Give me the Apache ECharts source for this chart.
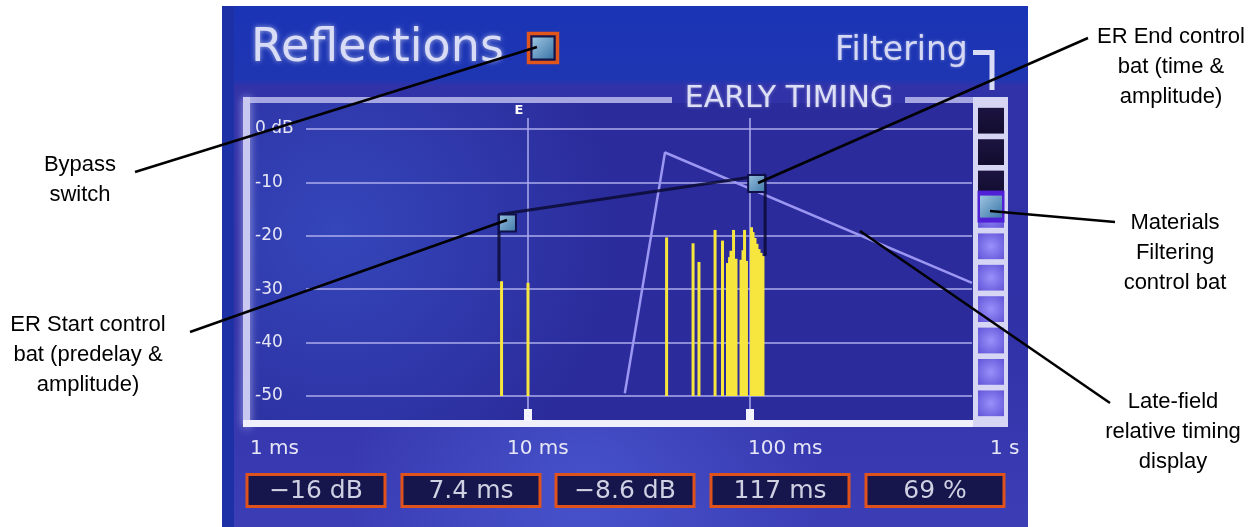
<!DOCTYPE html>
<html><head><meta charset="utf-8">
<script src="https://cdn.jsdelivr.net/npm/echarts@6/dist/echarts.min.js"></script>
<style>html,body{margin:0;padding:0;background:#fff}#c{width:1259px;height:527px}</style>
</head><body><div id="c"></div>
<script>
// ---- data ----
const reflMs = [7.6, 10.0, 42.1, 55.4, 58.9, 69.6, 75.2, 79.2, 80.9, 82.1, 84.3, 86.5, 91.1, 93.0, 94.5, 96.4, 101.6, 103.2, 105.3, 107.5, 109.8, 112.1, 114.4];
const reflDb = [-28.5, -28.8, -20.3, -21.4, -24.9, -18.9, -20.9, -25.1, -24.0, -22.8, -18.9, -24.3, -24.5, -22.7, -18.9, -24.7, -18.4, -19.3, -20.4, -21.5, -22.5, -23.2, -23.8];
const lateMs = [27.3, 41.4, 1000];
const lateDb = [-49.5, -4.4, -28.8];
const erStartMs = 7.4, erStartDb = -16;
const erEndMs = 117, erEndDb = -8.6;
const filterPct = 69;
const filterCells = 10;
const xGridMs = [10, 100];
const xTickLabels = ['1 ms', '10 ms', '100 ms', '1 s'];
const yTicks = [0, -10, -20, -30, -40, -50];
const yTickLabels = ['0 dB', '-10', '-20', '-30', '-40', '-50'];

// ---- layout ----
const FONT = "'DejaVu Sans', sans-serif";
const ANN = "'Liberation Sans', Arial, sans-serif";
const xLabelLeft = [250, 507, 748, 990];
const boxLeft = [247, 402, 556, 711, 866];

const fmtDb = v => (v < 0 ? '\u2212' : '') + Math.abs(v) + ' dB';
const readouts = [fmtDb(erStartDb), erStartMs + ' ms', fmtDb(erEndDb), erEndMs + ' ms', filterPct + ' %'];

const reflData = reflMs.map((t, i) => [t, reflDb[i]]);
const lateData = lateMs.map((t, i) => [t, lateDb[i]]);
const envData = [[erStartMs, reflDb[0]], [erStartMs, erStartDb], [erEndMs, erEndDb], [erEndMs, reflDb[reflDb.length - 1]]];

const cellData = [];
for (let i = 0; i < filterCells; i++) {
  const center = 100 - (i + 0.5) * 100 / filterCells;
  const dark = center > filterPct;
  cellData.push({
    value: 1,
    itemStyle: {
      color: dark
        ? {type: 'linear', x: 0, y: 0, x2: 0, y2: 1, colorStops: [{offset: 0, color: '#1c1440'}, {offset: 1, color: '#120c2e'}]}
        : {type: 'radial', x: 0.5, y: 0.5, r: 0.75, colorStops: [{offset: 0, color: '#9a90fa'}, {offset: 1, color: '#5e50d6'}]}
    }
  });
}

const batGrad = {type: 'linear', x: 0, y: 0, x2: 1, y2: 1, colorStops: [{offset: 0, color: '#9cc4e0'}, {offset: 1, color: '#3c76a8'}]};

const graphic = [];
// panel background
graphic.push({type: 'rect', z: -20, shape: {x: 222, y: 6, width: 806, height: 521},
  style: {fill: {type: 'linear', x: 0, y: 0, x2: 0, y2: 1, colorStops: [
    {offset: 0, color: '#1a34b6'}, {offset: 0.14, color: '#1f36b2'}, {offset: 0.155, color: '#3232a8'},
    {offset: 0.6, color: '#3131a6'}, {offset: 1, color: '#3c3eb6'}]}}});
graphic.push({type: 'rect', z: -19, shape: {x: 222, y: 6, width: 806, height: 521},
  style: {fill: {type: 'radial', x: 0.45, y: 0.92, r: 0.45, colorStops: [
    {offset: 0, color: 'rgba(80,100,220,0.55)'}, {offset: 1, color: 'rgba(80,100,220,0)'}]}}});
graphic.push({type: 'rect', z: -19, shape: {x: 222, y: 6, width: 12, height: 521}, style: {fill: '#1d30a6'}});
// inner plot background
graphic.push({type: 'rect', z: -18, shape: {x: 250, y: 103, width: 723, height: 317},
  style: {fill: {type: 'radial', x: 0.12, y: 0.4, r: 0.9, colorStops: [
    {offset: 0, color: '#3446ba'}, {offset: 1, color: '#2b2b9b'}]}}});
// frame
graphic.push({type: 'rect', z: -17, shape: {x: 243, y: 97, width: 429, height: 6}, style: {fill: '#a6a6e2'}});
graphic.push({type: 'rect', z: -17, shape: {x: 905, y: 97, width: 103, height: 6}, style: {fill: '#a6a6e2'}});
graphic.push({type: 'rect', z: -17, shape: {x: 243, y: 97, width: 7, height: 330},
  style: {fill: '#c8c8f0', shadowBlur: 8, shadowColor: 'rgba(210,210,255,0.7)'}});
graphic.push({type: 'rect', z: -17, shape: {x: 243, y: 420, width: 765, height: 7}, style: {fill: '#f0f0fc'}});
graphic.push({type: 'rect', z: -17, shape: {x: 973, y: 97, width: 35, height: 330}, style: {fill: '#d6d6f4'}});
// header texts
graphic.push({type: 'text', z: 10, x: 251, y: 49, style: {text: 'Reflections', fill: '#d8dcf6', font: '46px ' + FONT,
  align: 'left', verticalAlign: 'middle', textShadowColor: 'rgba(255,255,255,0.6)', textShadowBlur: 5}});
graphic.push({type: 'text', z: 10, x: 835, y: 51, style: {text: 'Filtering', fill: '#d4d8f4', font: '33px ' + FONT,
  align: 'left', verticalAlign: 'middle', textShadowColor: 'rgba(255,255,255,0.4)', textShadowBlur: 3}});
graphic.push({type: 'polyline', z: 10, shape: {points: [[973, 52.5], [992, 52.5], [992, 90]]},
  style: {stroke: '#d8dcf6', lineWidth: 5, fill: null}});
graphic.push({type: 'text', z: 10, x: 789, y: 99, style: {text: 'EARLY TIMING', fill: '#dcdff6', font: '30px ' + FONT,
  align: 'center', verticalAlign: 'middle', textShadowColor: 'rgba(255,255,255,0.4)', textShadowBlur: 3}});
graphic.push({type: 'text', z: 10, x: 519, y: 111, style: {text: 'E', fill: '#ffffff', font: 'bold 13px ' + FONT,
  align: 'center', verticalAlign: 'middle'}});
// bypass switch
graphic.push({type: 'rect', z: 10, shape: {x: 528.5, y: 33.5, width: 29, height: 29}, style: {fill: '#14144c', stroke: '#e0561c', lineWidth: 3.5}});
graphic.push({type: 'rect', z: 10, shape: {x: 532.5, y: 37.5, width: 21, height: 21}, style: {fill: batGrad}});
// x tick labels
xTickLabels.forEach((t, i) => graphic.push({type: 'text', z: 10, x: xLabelLeft[i], y: 449,
  style: {text: t, fill: '#e6e6f6', font: '20px ' + FONT, align: 'left', verticalAlign: 'middle'}}));
// readouts
readouts.forEach((t, i) => {
  graphic.push({type: 'rect', z: 10, shape: {x: boxLeft[i], y: 474.5, width: 138, height: 32},
    style: {fill: '#16164c', stroke: '#e0521c', lineWidth: 3}});
  graphic.push({type: 'text', z: 11, x: boxLeft[i] + 69, y: 491,
    style: {text: t, fill: '#cfd0e2', font: '25px ' + FONT, align: 'center', verticalAlign: 'middle'}});
});
// annotations
const annTexts = [
  ['Bypass\nswitch', 80, 180],
  ['ER Start control\nbat (predelay &\namplitude)', 88, 355],
  ['ER End control\nbat (time &\namplitude)', 1171, 67],
  ['Materials\nFiltering\ncontrol bat', 1175, 253],
  ['Late-field\nrelative timing\ndisplay', 1173, 432]
];
annTexts.forEach(a => graphic.push({type: 'text', z: 100, x: a[1], y: a[2],
  style: {text: a[0], fill: '#000', font: '22px ' + ANN, align: 'center', verticalAlign: 'middle', lineHeight: 30}}));
const annLines = [
  [135, 172, 537, 47], [190, 332, 507, 220], [1088, 38, 758, 183], [990, 211, 1115, 222], [860, 231, 1110, 403]
];
annLines.forEach(l => graphic.push({type: 'line', z: 100, shape: {x1: l[0], y1: l[1], x2: l[2], y2: l[3]},
  style: {stroke: '#000', lineWidth: 2.5}}));

const chart = echarts.init(document.getElementById('c'), null, {renderer: 'canvas'});
chart.setOption({
  animation: false,
  backgroundColor: '#ffffff',
  graphic: graphic,
  grid: [
    {left: 306, right: 287, top: 129, bottom: 131},
    {left: 978, width: 26, top: 105, height: 314}
  ],
  xAxis: [
    {type: 'log', logBase: 10, min: 1, max: 1000, gridIndex: 0,
      axisLine: {show: false}, axisTick: {show: false}, axisLabel: {show: false}, splitLine: {show: false}},
    {type: 'value', min: 0, max: 1, gridIndex: 1, show: false}
  ],
  yAxis: [
    {type: 'value', min: -50, max: 0, interval: 10, gridIndex: 0,
      axisLine: {show: false}, axisTick: {show: false},
      splitLine: {lineStyle: {color: 'rgba(172,172,236,0.75)', width: 2}},
      axisLabel: {margin: 51, align: 'left', color: '#e6e6f6', fontSize: 17, fontFamily: FONT, padding: [0, 0, 3, 0],
        formatter: v => yTickLabels[yTicks.indexOf(v)]}},
    {type: 'category', gridIndex: 1, inverse: true, show: false, data: cellData.map((d, i) => 'c' + i)},
    {type: 'value', gridIndex: 1, min: 0, max: 102, show: false}
  ],
  series: [
    {type: 'custom', name: 'decades', xAxisIndex: 0, yAxisIndex: 0, z: 1,
      data: xGridMs.map(t => [t, 0]),
      renderItem: (params, api) => {
        const p = api.coord([api.value(0), 0]);
        const cs = params.coordSys;
        return {type: 'group', children: [
          {type: 'line', shape: {x1: p[0], y1: cs.y - 11, x2: p[0], y2: cs.y + cs.height + 24},
            style: {stroke: 'rgba(172,172,236,0.75)', lineWidth: 2}},
          {type: 'rect', shape: {x: p[0] - 4, y: cs.y + cs.height + 13, width: 8, height: 12}, style: {fill: '#f4f4ff'}}
        ]};
      }},
    {type: 'line', name: 'late field', xAxisIndex: 0, yAxisIndex: 0, z: 2, data: lateData, symbol: 'none',
      lineStyle: {color: '#9a96f2', width: 2.5}},
    {type: 'custom', name: 'reflections', xAxisIndex: 0, yAxisIndex: 0, z: 3, data: reflData,
      renderItem: (params, api) => {
        const top = api.coord([api.value(0), api.value(1)]);
        const bot = api.coord([api.value(0), -50]);
        return {type: 'rect', shape: {x: top[0] - 1.5, y: top[1], width: 3, height: bot[1] - top[1]},
          style: {fill: '#f7e63e'}};
      }},
    {type: 'line', name: 'envelope', xAxisIndex: 0, yAxisIndex: 0, z: 4, data: envData, symbol: 'none',
      lineStyle: {color: 'rgba(10,10,52,0.85)', width: 3}},
    {type: 'scatter', name: 'start bat', xAxisIndex: 0, yAxisIndex: 0, z: 5, data: [[erStartMs, erStartDb]],
      symbol: 'rect', symbolSize: 17, symbolOffset: [8.5, 8.5],
      itemStyle: {color: batGrad, borderColor: '#10104a', borderWidth: 2, opacity: 1}},
    {type: 'scatter', name: 'end bat', xAxisIndex: 0, yAxisIndex: 0, z: 5, data: [[erEndMs, erEndDb]],
      symbol: 'rect', symbolSize: 17, symbolOffset: [-8.5, 8.5],
      itemStyle: {color: batGrad, borderColor: '#10104a', borderWidth: 2, opacity: 1}},
    {type: 'bar', name: 'filter cells', xAxisIndex: 1, yAxisIndex: 1, z: 2, data: cellData,
      barCategoryGap: '18%'},
    {type: 'scatter', name: 'filter sel', xAxisIndex: 1, yAxisIndex: 2, z: 3, data: [[0.5, filterPct]],
      symbol: 'rect', symbolSize: [27, 32], itemStyle: {color: '#5020d6', opacity: 1}},
    {type: 'scatter', name: 'filter bat', xAxisIndex: 1, yAxisIndex: 2, z: 4, data: [[0.5, filterPct]],
      symbol: 'rect', symbolSize: [22, 22], itemStyle: {color: batGrad, opacity: 1}}
  ]
});
</script>
</body></html>
